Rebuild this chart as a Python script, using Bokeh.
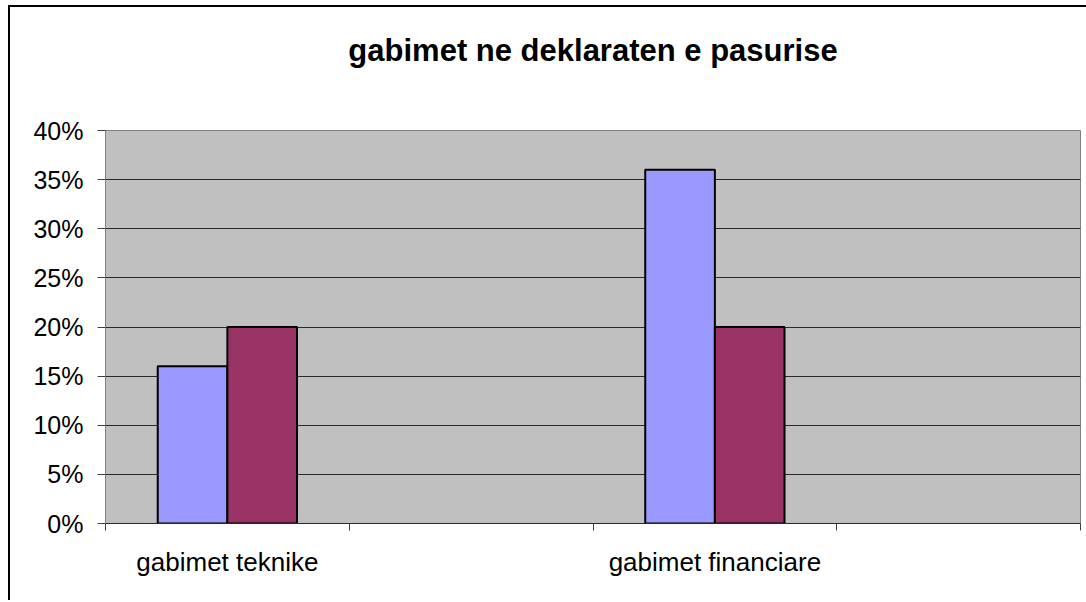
from bokeh.plotting import figure
from bokeh.models import FixedTicker, NumeralTickFormatter, Range1d, ColumnDataSource, Title
from bokeh.embed import file_html
from bokeh.resources import INLINE

# ---- data ----
categories = ["gabimet teknike", "", "gabimet financiare", ""]
series_a = [0.16, float("nan"), 0.36, float("nan")]   # blue series
series_b = [0.20, float("nan"), 0.20, float("nan")]   # maroon series
y_ticks = [0.0, 0.05, 0.10, 0.15, 0.20, 0.25, 0.30, 0.35, 0.40]
title_text = "gabimet ne deklaraten e pasurise"

FONT = "Liberation Sans"
n = len(categories)
centers = [i + 0.5 for i in range(n)]
bar_w = 1.0 / 3.5  # Excel gap width 150%

p = figure(width=1078, height=595, output_backend="svg", toolbar_location=None,
           x_range=Range1d(0, n), y_range=Range1d(0, 0.4),
           min_border_left=95, min_border_right=8, min_border_top=123, min_border_bottom=79)
p.styles = {"border-left": "2px solid black", "border-top": "2px solid black",
            "margin-left": "8px", "margin-top": "5px", "box-sizing": "border-box"}

p.title.text = title_text
p.title.align = "center"
p.title.text_font = FONT
p.title.text_font_size = "31px"
p.title.text_font_style = "bold"
p.title.text_color = "black"
p.title.standoff = 42

# empty spacer between the title and the plot area
p.add_layout(Title(text=" ", text_font_size="1px", standoff=39), "above")

p.background_fill_color = "#C0C0C0"
p.border_fill_color = "white"
p.outline_line_color = "#808080"
p.outline_line_width = 1

src = ColumnDataSource(dict(
    xa=[c - bar_w / 2 for c in centers],
    xb=[c + bar_w / 2 for c in centers],
    a=series_a, b=series_b))

p.vbar(x="xa", top="a", width=bar_w, bottom=0, source=src,
       fill_color="#9999FF", line_color="black", line_width=2)
p.vbar(x="xb", top="b", width=bar_w, bottom=0, source=src,
       fill_color="#993366", line_color="black", line_width=2)

# grids
p.xgrid.grid_line_color = None
p.ygrid.ticker = FixedTicker(ticks=y_ticks)
p.ygrid.grid_line_color = "#2a2a2a"
p.ygrid.grid_line_width = 1

# y axis
ya = p.yaxis[0]
ya.ticker = FixedTicker(ticks=y_ticks)
ya.formatter = NumeralTickFormatter(format="0%")
ya.axis_line_color = "#808080"
ya.major_tick_line_color = "#404040"
ya.major_tick_in = 0
ya.major_tick_out = 8
ya.minor_tick_line_color = None
ya.major_label_standoff = 14
ya.major_label_text_font = FONT
ya.major_label_text_font_size = "25px"
ya.major_label_text_color = "black"

# x axis: labels at slot centres, tick marks at slot boundaries
xa = p.xaxis[0]
xa.ticker = FixedTicker(ticks=centers, minor_ticks=list(range(n + 1)))
xa.major_label_overrides = {c: lab for c, lab in zip(centers, categories)}
xa.axis_line_color = "#2a2a2a"
xa.axis_line_width = 1
xa.major_tick_line_color = None
xa.major_tick_in = 0
xa.major_tick_out = 0
xa.minor_tick_line_color = "#404040"
xa.minor_tick_in = 0
xa.minor_tick_out = 7
xa.major_label_standoff = 16
xa.major_label_text_font = FONT
xa.major_label_text_font_size = "26px"
xa.major_label_text_color = "black"

open("out.html", "w").write(file_html(p, INLINE))
